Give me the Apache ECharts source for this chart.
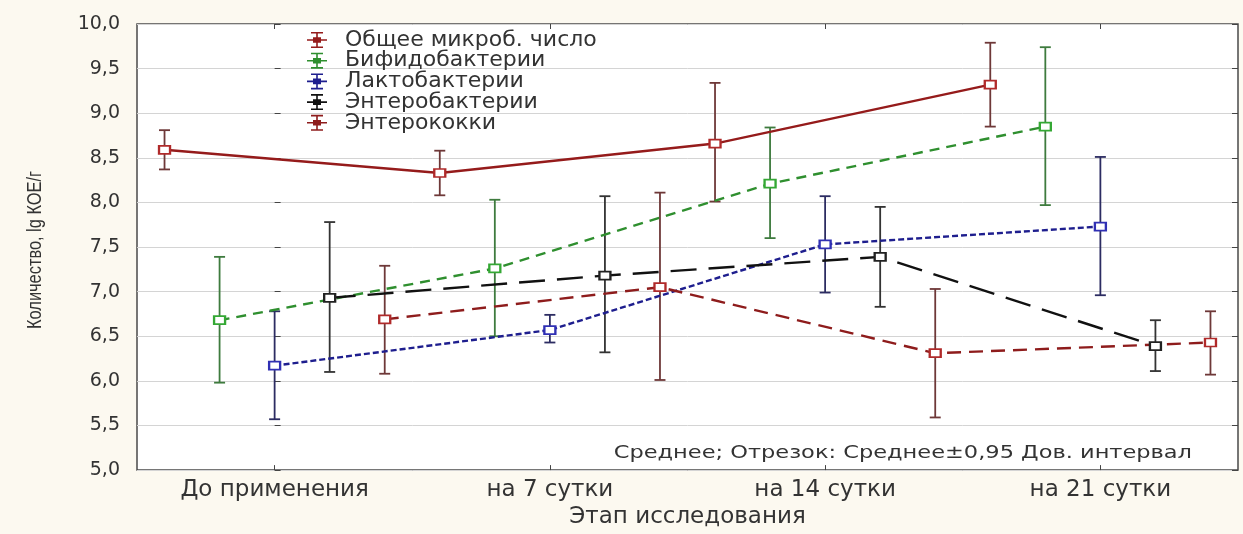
<!DOCTYPE html>
<html>
<head>
<meta charset="utf-8">
<script src="https://cdn.jsdelivr.net/npm/echarts@6/dist/echarts.min.js"></script>
<style>
html,body{margin:0;padding:0;background:#fcf9f0;}
#chart{width:1243px;height:534px;}
</style>
</head>
<body>
<div id="chart"></div>
<script>
// ---- data ----
const categories = ['До применения', 'на 7 сутки', 'на 14 сутки', 'на 21 сутки'];
const seriesNames = ['Общее микроб. число', 'Бифидобактерии', 'Лактобактерии', 'Энтеробактерии', 'Энтерококки'];
const yTicks = [5.0, 5.5, 6.0, 6.5, 7.0, 7.5, 8.0, 8.5, 9.0, 9.5, 10.0];

const obschMean = [8.59, 8.33, 8.66, 9.32];
const obschLow  = [8.37, 8.08, 8.01, 8.85];
const obschHigh = [8.81, 8.58, 9.34, 9.79];

const bifidoMean = [6.68, 7.26, 8.21, 8.85];
const bifidoLow  = [5.98, 6.50, 7.60, 7.97];
const bifidoHigh = [7.39, 8.03, 8.84, 9.74];

const laktoMean = [6.17, 6.57, 7.53, 7.73];
const laktoLow  = [5.57, 6.43, 6.99, 6.96];
const laktoHigh = [6.78, 6.74, 8.07, 8.51];

const enteroMean = [6.93, 7.18, 7.39, 6.39];
const enteroLow  = [6.10, 6.32, 6.83, 6.11];
const enteroHigh = [7.78, 8.07, 7.95, 6.68];

const kokkiMean = [6.69, 7.05, 6.31, 6.43];
const kokkiLow  = [6.08, 6.01, 5.59, 6.07];
const kokkiHigh = [7.29, 8.11, 7.03, 6.78];

const yAxisTitle = 'Количество, lg КОЕ/г';
const xAxisTitle = 'Этап исследования';
const noteText = 'Среднее; Отрезок: Среднее±0,95 Дов. интервал';

// ---- layout / style ----
const groupOffsets = [-0.4, -0.2, 0, 0.2, 0.4];
const styles = [
  {line:'#951b1b', marker:'#b02a2a', bar:'#6e3838', dash:'solid'},
  {line:'#2f8f2f', marker:'#34a834', bar:'#3e7b3e', dash:[10,7]},
  {line:'#1e1e8e', marker:'#3030b4', bar:'#2c2c62', dash:[6,3]},
  {line:'#111111', marker:'#222222', bar:'#333333', dash:[26,12]},
  {line:'#8e1c1c', marker:'#b02a2a', bar:'#6e3838', dash:[14,8]}
];
const allMeans = [obschMean, bifidoMean, laktoMean, enteroMean, kokkiMean];
const allLows  = [obschLow, bifidoLow, laktoLow, enteroLow, kokkiLow];
const allHighs = [obschHigh, bifidoHigh, laktoHigh, enteroHigh, kokkiHigh];

const FONT = 'DejaVu Sans';
const legendIcon = 'path://M4,0H16V1.6H4Z M4,14.4H16V16H4Z M9.2,0H10.8V16H9.2Z M0,7.2H20V8.8H0Z M6,5.2H14V10.8H6Z';

const series = [];
seriesNames.forEach((name, s) => {
  const st = styles[s];
  series.push({
    name: name,
    type: 'custom',
    xAxisIndex: 2,
    yAxisIndex: 0,
    z: 2,
    silent: true,
    data: categories.map((c, i) => [i + groupOffsets[s], allLows[s][i], allHighs[s][i]]),
    encode: {x: 0, y: [1, 2]},
    renderItem: function (params, api) {
      const x = api.value(0);
      const pLo = api.coord([x, api.value(1)]);
      const pHi = api.coord([x, api.value(2)]);
      const w = 5.5;
      const sty = {stroke: st.bar, lineWidth: 1.8};
      return {type: 'group', children: [
        {type: 'line', shape: {x1: pLo[0], y1: pLo[1], x2: pHi[0], y2: pHi[1]}, style: sty},
        {type: 'line', shape: {x1: pLo[0] - w, y1: pLo[1], x2: pLo[0] + w, y2: pLo[1]}, style: sty},
        {type: 'line', shape: {x1: pHi[0] - w, y1: pHi[1], x2: pHi[0] + w, y2: pHi[1]}, style: sty}
      ]};
    }
  });
  series.push({
    name: name,
    type: 'line',
    xAxisIndex: 2,
    yAxisIndex: 0,
    z: 3,
    data: categories.map((c, i) => [i + groupOffsets[s], allMeans[s][i]]),
    symbol: 'emptyRect',
    symbolSize: [11, 8],
    lineStyle: {color: st.line, width: 2.4, type: st.dash},
    itemStyle: {color: st.marker, borderWidth: 1.6},
    animation: false
  });
});

const chart = echarts.init(document.getElementById('chart'));
chart.setOption({
  animation: false,
  backgroundColor: '#fcf9f0',
  grid: {left: 137, right: 5, top: 24, bottom: 56, show: true, backgroundColor: '#ffffff', borderColor: '#4a4a4a', borderWidth: 1.5},
  legend: {
    orient: 'vertical', left: 302, top: 24, itemGap: -1.3, itemWidth: 20, itemHeight: 16,
    data: seriesNames.map((n, s) => ({name: n, icon: legendIcon, itemStyle: {color: styles[s].line, borderWidth: 0}})),
    textStyle: {fontFamily: FONT, fontSize: 22, color: '#333', lineHeight: 20, padding: [0, 0, 0, 13]}
  },
  xAxis: [
    {type: 'category', data: categories, position: 'bottom', boundaryGap: true,
     axisLine: {show: false}, axisTick: {show: true, inside: true, alignWithLabel: true, length: 5, lineStyle: {color: '#444'}},
     axisLabel: {fontFamily: FONT, fontSize: 23, color: '#333', margin: 8},
     name: xAxisTitle, nameLocation: 'middle', nameGap: 33,
     nameTextStyle: {fontFamily: FONT, fontSize: 23, color: '#333'}},
    {type: 'category', data: categories, position: 'top', boundaryGap: true,
     axisLine: {show: false}, axisTick: {show: true, inside: true, alignWithLabel: true, length: 5, lineStyle: {color: '#444'}},
     axisLabel: {show: false}},
    {type: 'value', min: -0.5, max: 3.5, show: false}
  ],
  yAxis: [
    {type: 'value', min: yTicks[0], max: yTicks[yTicks.length - 1], interval: 0.5, position: 'left',
     axisLine: {show: false}, axisTick: {show: true, inside: true, length: 6, lineStyle: {color: '#444'}},
     splitLine: {show: true, lineStyle: {color: '#d4d4d4', width: 1}},
     axisLabel: {fontFamily: FONT, fontSize: 19, color: '#333', margin: 17, formatter: v => v.toFixed(1).replace('.', ',')}},
    {type: 'value', min: yTicks[0], max: yTicks[yTicks.length - 1], interval: 0.5, position: 'right',
     axisLine: {show: false}, axisTick: {show: true, inside: true, length: 6, lineStyle: {color: '#444'}},
     splitLine: {show: false}, axisLabel: {show: false}}
  ],
  graphic: [
    {type: 'text', x: 1192, y: 453, scaleX: 1.25, z: 10,
     style: {text: noteText, x: 0, y: 0, align: 'right', verticalAlign: 'middle', font: '18px "DejaVu Sans"', fill: '#333'}},
    {type: 'text', x: 35, y: 250, rotation: Math.PI / 2, scaleX: 0.78, z: 10,
     style: {text: yAxisTitle, x: 0, y: 0, align: 'center', verticalAlign: 'middle', font: '21px "Liberation Sans"', fill: '#333'}}
  ],
  series: series
});
</script>
</body>
</html>
